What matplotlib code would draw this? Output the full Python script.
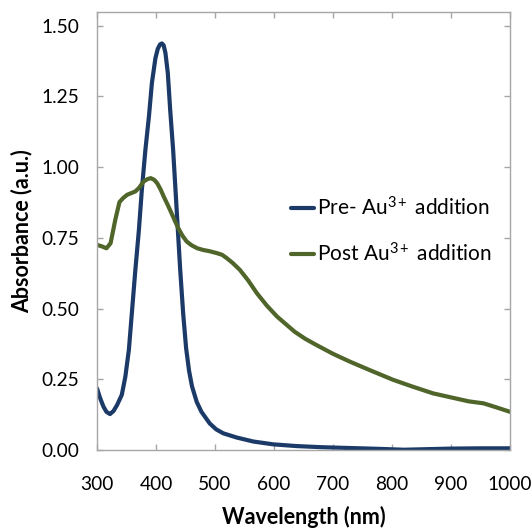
import matplotlib
matplotlib.use("Agg")
import matplotlib.pyplot as plt
from matplotlib.ticker import FormatStrFormatter

plt.rcParams["font.family"] = ["Lato", "DejaVu Sans"]
plt.rcParams["mathtext.fontset"] = "custom"
plt.rcParams["mathtext.rm"] = "Lato"
plt.rcParams["mathtext.it"] = "Lato:italic"
plt.rcParams["mathtext.bf"] = "Lato:bold"

# Pre- Au3+ addition (blue)
wl_pre = [300, 305, 311, 316, 322, 328, 334, 342, 348, 354, 359, 365, 371, 376,
          382, 388, 393, 399, 403, 407, 410, 413, 416, 420, 424, 429, 433, 437,
          441, 446, 451, 456, 461, 469, 477, 491, 502, 514, 537, 565, 599, 638,
          680, 730, 780, 820, 860, 900, 950, 1000]
abs_pre = [0.218, 0.185, 0.153, 0.135, 0.127, 0.138, 0.159, 0.195, 0.259, 0.354,
           0.483, 0.637, 0.778, 0.92, 1.061, 1.179, 1.297, 1.385, 1.418, 1.434,
           1.437, 1.43, 1.403, 1.332, 1.203, 1.061, 0.92, 0.778, 0.637, 0.483,
           0.36, 0.28, 0.225, 0.17, 0.135, 0.094, 0.073, 0.059, 0.044, 0.03,
           0.02, 0.014, 0.01, 0.007, 0.004, 0.001, 0.003, 0.005, 0.006, 0.006]

# Post Au3+ addition (green)
wl_post = [300, 308, 316, 323, 331, 338, 344, 351, 358, 365, 371, 379, 385, 391,
           397, 402, 408, 413, 419, 425, 432, 438, 445, 452, 460, 470, 480, 490,
           503, 512, 520, 530, 542, 556, 571, 588, 605, 620, 635, 653, 672, 700,
           729, 765, 802, 835, 870, 900, 930, 955, 975, 1000]
abs_post = [0.725, 0.72, 0.713, 0.731, 0.814, 0.876, 0.89, 0.902, 0.908, 0.914,
            0.926, 0.949, 0.957, 0.961, 0.955, 0.943, 0.92, 0.896, 0.87, 0.843,
            0.81, 0.783, 0.757, 0.737, 0.724, 0.713, 0.707, 0.703, 0.696, 0.69,
            0.678, 0.661, 0.637, 0.6, 0.554, 0.51, 0.472, 0.445, 0.418, 0.393,
            0.371, 0.34, 0.312, 0.28, 0.248, 0.224, 0.2, 0.186, 0.172, 0.165,
            0.152, 0.135]

x_ticks = [300, 400, 500, 600, 700, 800, 900, 1000]
y_ticks = [0.0, 0.25, 0.5, 0.75, 1.0, 1.25, 1.5]

fig = plt.figure(figsize=(5.31, 5.30), dpi=100)
ax = fig.add_axes([0.1827, 0.1509, 0.7778, 0.8264])

ax.plot(wl_pre, abs_pre, color="#1B3A68", lw=3.0, label=r"Pre- Au$^{3+}$ addition",
        solid_capstyle="round", solid_joinstyle="round")
ax.plot(wl_post, abs_post, color="#50652A", lw=3.0, label=r"Post Au$^{3+}$ addition",
        solid_capstyle="round", solid_joinstyle="round")

ax.set_xlim(300, 1000)
ax.set_ylim(0, 1.548)
ax.set_xticks(x_ticks)
ax.set_yticks(y_ticks)
ax.yaxis.set_major_formatter(FormatStrFormatter("%.2f"))

for s in ax.spines.values():
    s.set_color("#A6A6A6")
    s.set_linewidth(1.0)
ax.tick_params(direction="in", length=4.5, width=1.0, color="#A6A6A6",
               top=True, right=True, labelsize=13.8, labelcolor="black")
ax.tick_params(axis="x", pad=19)
ax.tick_params(axis="y", pad=13)

ax.set_xlabel("Wavelength (nm)", fontsize=15.5, fontweight="bold", labelpad=9)
ax.set_ylabel("Absorbance (a.u.)", fontsize=15.5, fontweight="bold", labelpad=6)

ax.legend(loc="upper left", bbox_to_anchor=(0.47, 0.58), frameon=False,
          fontsize=15, handlelength=1.1, handletextpad=0.12, labelspacing=1.1,
          borderpad=0, borderaxespad=0)

fig.savefig("out.png", dpi=100)
